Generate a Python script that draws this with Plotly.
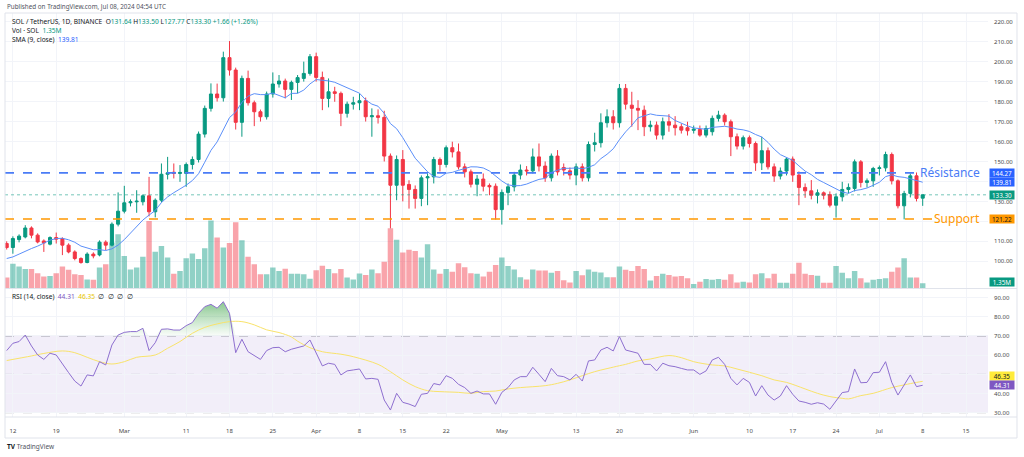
import numpy as np
import pandas as pd
import plotly.graph_objects as go

# ---------------- data ----------------
start_date = "2024-02-11"

opens = [108.9, 106.9, 110.9, 112.2, 116.7, 113.1, 110.2, 108.6, 111.9, 111.4,
         108.1, 104.7, 101.4, 99.4, 103.6, 103.2, 109.6, 108.1, 118.6, 125.1,
         129.3, 129.8, 129.8, 132.8, 124.8, 130.6, 143.6, 144.6, 144.0, 144.0,
         148.5, 151.0, 163.7, 176.6, 183.8, 181.9, 202.0, 195.8, 169.6, 191.6,
         179.4, 174.9, 172.4, 183.8, 188.8, 190.3, 186.1, 189.6, 191.6, 194.1,
         202.5, 192.1, 181.6, 184.9, 184.1, 174.1, 178.7, 179.4, 180.4, 172.4,
         172.9, 172.1, 152.7, 138.1, 151.0, 138.5, 136.0, 131.5, 141.8, 142.3,
         151.0, 148.5, 156.9, 154.8, 147.3, 144.8, 138.6, 141.2, 138.0, 137.6,
         125.9, 134.5, 137.3, 143.2, 145.7, 145.3, 152.3, 147.7, 141.8, 152.7,
         147.0, 145.3, 143.2, 147.3, 141.8, 158.5, 159.4, 169.4, 172.4, 169.4,
         186.6, 178.2, 176.6, 175.7, 167.4, 168.2, 163.2, 169.9, 168.2, 167.4,
         166.9, 165.6, 166.0, 163.2, 164.9, 171.6, 173.2, 169.9, 162.4, 157.7,
         161.9, 159.0, 149.3, 155.4, 147.3, 142.7, 145.2, 151.2, 143.2, 137.0,
         135.3, 133.1, 134.3, 133.4, 128.1, 132.3, 136.0, 136.5, 149.8, 139.5,
         140.3, 146.5, 146.8, 153.5, 140.3, 127.8, 134.0, 142.8, 131.64]
highs = [110.0, 112.5, 113.5, 118.1, 117.5, 114.0, 111.0, 112.5, 114.4, 112.0,
         109.0, 105.5, 102.0, 104.5, 104.5, 110.5, 110.5, 119.5, 134.5, 137.8,
         131.0, 135.6, 133.5, 142.3, 131.5, 149.0, 152.3, 149.0, 148.2, 149.5,
         152.5, 165.0, 178.0, 189.1, 189.0, 205.0, 210.3, 197.0, 193.0, 195.5,
         180.5, 176.0, 185.0, 194.6, 193.3, 191.5, 190.5, 193.3, 200.0, 203.8,
         204.5, 195.0, 191.6, 187.4, 185.0, 180.0, 182.4, 184.1, 182.0, 176.6,
         176.1, 175.4, 154.0, 153.0, 155.7, 140.6, 138.0, 143.0, 144.0, 152.3,
         152.0, 158.0, 159.9, 159.0, 149.0, 146.0, 143.2, 144.0, 139.0, 139.0,
         136.0, 139.0, 144.8, 148.5, 147.7, 156.5, 159.0, 150.0, 154.0, 155.7,
         149.0, 147.0, 149.0, 149.0, 160.0, 164.4, 174.1, 176.1, 175.7, 188.8,
         188.8, 184.9, 180.7, 178.0, 170.4, 170.0, 172.0, 173.7, 172.7, 169.0,
         169.9, 168.0, 168.0, 168.0, 173.0, 175.4, 174.1, 171.0, 164.0, 163.0,
         163.0, 160.0, 162.4, 157.0, 149.0, 147.0, 152.0, 152.5, 145.0, 139.0,
         140.7, 136.0, 135.0, 135.0, 134.0, 139.8, 139.0, 151.0, 150.7, 141.5,
         147.3, 148.0, 154.9, 154.5, 141.0, 135.3, 144.0, 144.5, 133.50]
lows = [105.9, 103.8, 109.5, 111.5, 111.5, 109.0, 104.7, 108.0, 108.9, 103.1,
        104.0, 100.5, 98.8, 99.0, 101.5, 102.5, 105.6, 107.5, 117.5, 124.0,
        127.5, 124.3, 128.0, 122.5, 122.0, 129.5, 141.0, 141.5, 139.8, 137.3,
        146.0, 149.5, 162.0, 175.0, 180.0, 180.0, 193.0, 166.0, 162.4, 178.0,
        167.7, 170.0, 171.0, 182.0, 187.0, 181.6, 180.8, 184.1, 190.0, 193.0,
        190.0, 175.7, 177.1, 179.9, 167.7, 172.0, 176.0, 175.7, 170.0, 162.4,
        169.0, 150.0, 116.5, 130.6, 130.0, 126.4, 126.4, 127.6, 128.1, 139.0,
        145.0, 147.0, 152.0, 146.0, 142.0, 137.0, 132.6, 135.0, 133.1, 120.9,
        118.4, 128.1, 135.0, 141.0, 143.0, 144.0, 145.0, 139.8, 140.0, 143.0,
        143.0, 141.0, 138.1, 140.0, 140.0, 155.0, 157.0, 167.0, 166.0, 167.0,
        176.0, 167.4, 165.7, 162.7, 165.0, 161.0, 161.0, 164.9, 163.0, 164.0,
        163.0, 164.0, 162.4, 162.0, 163.0, 170.0, 168.0, 152.7, 156.0, 156.0,
        157.0, 145.3, 145.7, 146.0, 139.8, 141.0, 143.0, 139.8, 128.1, 131.8,
        131.0, 129.0, 131.0, 127.0, 121.9, 130.0, 134.0, 135.0, 137.0, 137.0,
        137.3, 143.0, 145.0, 138.5, 126.5, 121.0, 132.0, 130.0, 127.77]
closes = [106.9, 111.4, 112.6, 116.7, 113.1, 109.7, 109.2, 111.9, 111.1, 108.1,
          104.7, 101.4, 99.4, 103.6, 102.7, 109.6, 108.1, 118.6, 125.1, 129.3,
          129.8, 130.1, 132.8, 124.8, 130.6, 143.6, 144.3, 144.0, 144.5, 148.5,
          151.0, 163.7, 176.6, 183.8, 181.9, 202.0, 195.8, 169.6, 191.6, 179.4,
          174.9, 172.4, 183.8, 188.8, 190.3, 186.1, 189.6, 192.0, 194.1, 202.5,
          192.1, 181.6, 184.9, 184.1, 174.1, 178.7, 179.4, 180.4, 172.4, 172.9,
          172.1, 152.7, 138.1, 151.0, 138.1, 136.0, 131.5, 141.8, 142.3, 151.0,
          148.5, 156.9, 154.8, 147.3, 144.8, 138.6, 141.2, 137.6, 137.3, 125.9,
          134.5, 137.3, 143.2, 145.7, 145.3, 152.3, 147.7, 141.8, 152.7, 144.8,
          145.7, 143.2, 147.3, 141.8, 158.5, 159.4, 169.4, 172.4, 169.4, 186.6,
          178.7, 176.6, 175.7, 167.4, 168.2, 163.2, 169.9, 168.2, 166.9, 165.7,
          165.4, 166.2, 163.2, 166.5, 171.6, 173.2, 169.9, 162.4, 157.7, 161.9,
          159.0, 149.3, 155.4, 147.3, 142.7, 145.2, 151.2, 143.2, 137.0, 135.3,
          133.1, 134.3, 133.1, 128.1, 132.3, 136.0, 137.0, 149.8, 139.5, 140.3,
          146.5, 146.8, 153.5, 140.3, 127.8, 134.0, 142.8, 131.5, 133.30]
# volume in millions of SOL
volumes = [2.9, 6.6, 5.9, 5.2, 5.2, 4.1, 3.2, 3.3, 4.1, 5.9,
           5.0, 3.8, 3.6, 2.4, 2.3, 5.6, 6.5, 12.4, 14.6, 8.7,
           5.1, 5.6, 8.5, 18.2, 9.9, 11.4, 8.3, 3.9, 4.7, 8.1,
           9.4, 7.9, 10.8, 18.3, 13.7, 11.0, 12.2, 17.8, 13.0, 8.5,
           6.5, 3.8, 3.8, 5.6, 4.7, 5.3, 3.9, 3.9, 3.8, 2.6,
           4.9, 6.1, 5.2, 4.1, 5.2, 2.9, 2.4, 4.0, 3.6, 5.1,
           4.1, 7.2, 16.2, 13.1, 9.7, 10.4, 10.1, 8.3, 11.9, 5.1,
           3.9, 5.2, 4.5, 6.8, 5.7, 4.1, 3.9, 3.2, 4.5, 6.3,
           8.3, 6.0, 5.1, 3.0, 2.4, 5.1, 4.8, 4.8, 4.2, 4.7,
           2.2, 1.6, 4.7, 3.5, 5.1, 4.5, 4.3, 3.0, 3.0, 5.9,
           5.0, 4.7, 6.0, 5.2, 2.1, 3.3, 3.9, 3.6, 3.2, 3.3,
           2.7, 1.2, 1.8, 2.5, 2.3, 2.5, 2.3, 3.8, 1.6, 1.8,
           1.6, 3.8, 4.1, 2.7, 3.9, 1.5, 1.5, 3.9, 6.9, 3.9,
           3.6, 3.4, 1.5, 1.5, 6.0, 4.2, 2.7, 4.7, 2.7, 1.6,
           2.3, 2.5, 2.7, 4.5, 5.6, 8.1, 2.9, 2.9, 1.35]
# SMA(9) values visible for the first 8 days (history before the chart starts)
sma_head = [101.4, 102.2, 103.6, 105.1, 106.4, 107.6, 108.9, 110.6]

rsi_values = [62.4, 66.2, 67.1, 70.5, 64.8, 60.1, 57.8, 61.0, 60.1, 55.8,
              50.9, 46.5, 43.9, 49.7, 49.2, 56.6, 54.9, 65.3, 70.5, 71.9,
              72.3, 72.3, 74.0, 62.4, 66.5, 73.5, 73.7, 73.1, 73.1, 75.4,
              77.0, 81.8, 85.3, 86.5, 84.5, 87.9, 81.8, 61.3, 68.3, 61.8,
              59.6, 57.8, 62.4, 63.9, 64.1, 61.8, 63.1, 64.1, 64.8, 67.9,
              61.0, 54.4, 55.8, 55.2, 49.7, 51.8, 52.3, 52.8, 47.6, 47.9,
              47.4, 36.6, 31.4, 40.1, 35.4, 34.5, 33.2, 39.6, 40.1, 45.2,
              44.5, 49.3, 47.9, 44.8, 43.1, 40.1, 41.3, 39.8, 39.8, 34.4,
              40.6, 43.1, 47.1, 48.8, 48.8, 53.7, 50.0, 46.2, 53.1, 49.3,
              48.8, 47.1, 50.0, 46.5, 57.0, 57.5, 62.7, 64.1, 62.2, 69.7,
              62.7, 61.8, 61.0, 55.2, 55.2, 51.8, 55.8, 54.5, 54.0, 53.1,
              52.3, 52.3, 50.0, 51.8, 57.5, 58.9, 55.2, 47.9, 44.5, 47.9,
              45.8, 38.7, 44.1, 39.2, 36.6, 38.7, 44.1, 39.6, 36.1, 35.4,
              34.4, 35.2, 34.5, 31.8, 36.1, 40.5, 41.0, 52.8, 45.6, 45.8,
              50.9, 51.1, 56.6, 45.8, 39.2, 44.5, 49.7, 43.6, 44.31]
# RSI-based MA (yellow), read at these day offsets from start_date
rsi_ma_days = [0, 4, 6, 9, 11, 13, 15, 17, 19, 21, 24, 26, 28, 30, 32, 34, 36, 38,
               40, 42, 44, 46, 47, 49, 51, 54, 56, 60, 62, 64, 66, 68, 70, 73, 75,
               77, 79, 81, 83, 87, 89, 91, 93, 95, 97, 99, 100, 102, 104, 107, 109,
               111, 114, 116, 118, 120, 122, 124, 126, 129, 131, 133, 135, 136,
               138, 140, 143, 145, 147, 148]
rsi_ma_values = [57.2, 59.6, 60.9, 62.2, 61.3, 58.9, 56.6, 55.4, 56.6, 58.9, 60.1,
                 63.6, 67.1, 71.4, 74.5, 76.3, 77.5, 77.5, 75.8, 73.2, 71.8, 69.5,
                 67.3, 63.9, 61.8, 60.5, 59.2, 55.2, 51.4, 47.1, 43.6, 41.5, 41.0,
                 40.6, 40.1, 41.0, 41.3, 42.4, 43.1, 44.1, 45.3, 47.1, 49.3, 51.4,
                 53.0, 54.5, 55.2, 57.0, 58.0, 59.8, 58.7, 56.6, 54.9, 54.4, 52.8,
                 51.1, 49.3, 47.1, 45.8, 42.4, 40.1, 38.4, 37.5, 37.2, 38.9, 40.1,
                 43.1, 44.5, 45.8, 46.35]

tick_dates = ["2024-02-12", "2024-02-19", "2024-03-01", "2024-03-11", "2024-03-18",
              "2024-03-25", "2024-04-01", "2024-04-08", "2024-04-15", "2024-04-22",
              "2024-05-01", "2024-05-13", "2024-05-20", "2024-06-01", "2024-06-10",
              "2024-06-17", "2024-06-24", "2024-07-01", "2024-07-08", "2024-07-15"]
tick_labels = ["12", "19", "Mar", "11", "18", "25", "Apr", "8", "15", "22",
               "May", "13", "20", "Jun", "10", "17", "24", "Jul", "8", "15"]
price_ticks = [100, 110, 120, 130, 140, 150, 160, 170, 180, 190, 200, 210, 220]
hidden_price_ticks = [120, 140]   # covered by the price labels in the reference
rsi_ticks = [30, 40, 50, 60, 70, 80, 90]
hidden_rsi_ticks = [50]

resistance = 144.27
support = 121.22
last_close = 133.30
last_sma = 139.81
last_rsi = 44.31
last_rsi_ma = 46.35

# ---------------- styling ----------------
FONT = "Noto Sans"
UP = "#089981"
DN = "#F23645"
UP_VOL = "rgba(8,153,129,0.45)"
DN_VOL = "rgba(242,54,69,0.45)"
SMA_C = "#5b8ff9"
RES_C = "#4a7cf6"
SUP_C = "#FF9800"
RSI_C = "#8E6FD0"
RSI_BOX = "#7E57C2"
RSI_MA_C = "#F9E36A"
GRID = "#F2F4F9"
TXT = "#131722"

n = len(closes)
dates = pd.date_range(start_date, periods=n, freq="D")
t0 = pd.Timestamp(start_date)

sma = pd.Series(closes, dtype=float).rolling(9).mean()
sma.iloc[:len(sma_head)] = sma_head

vol_colors = [UP_VOL if c >= o else DN_VOL for o, c in zip(opens, closes)]
rsi_ma_dates = [t0 + pd.Timedelta(days=d) for d in rsi_ma_days]
rsi_arr = np.array(rsi_values)
rsi_ob = np.maximum(rsi_arr, 70)

x_left = t0 + pd.Timedelta(days=-0.275)
x_right = t0 + pd.Timedelta(days=158.55)

fig = go.Figure()
fig.add_trace(go.Bar(x=dates, y=volumes, marker=dict(color=vol_colors, line=dict(width=0)),
                     xaxis="x", yaxis="y", hoverinfo="skip"))
fig.add_trace(go.Candlestick(x=dates, open=opens, high=highs, low=lows, close=closes,
                             xaxis="x", yaxis="y3", whiskerwidth=0,
                             increasing=dict(line=dict(color=UP, width=1), fillcolor=UP),
                             decreasing=dict(line=dict(color=DN, width=1), fillcolor=DN),
                             hoverinfo="skip"))
fig.add_trace(go.Scatter(x=dates, y=sma, xaxis="x", yaxis="y3", mode="lines",
                         line=dict(color=SMA_C, width=1), hoverinfo="skip"))

# RSI pane
fig.add_trace(go.Scatter(x=dates, y=[70] * n, xaxis="x", yaxis="y2", mode="lines",
                         line=dict(width=0), hoverinfo="skip"))
fig.add_trace(go.Scatter(x=dates, y=rsi_ob, xaxis="x", yaxis="y2", mode="lines",
                         line=dict(width=0), fill="tonexty",
                         fillgradient=dict(type="vertical",
                                           colorscale=[[0, "rgba(76,175,80,0.03)"],
                                                       [1, "rgba(56,160,70,0.6)"]],
                                           start=70, stop=88),
                         hoverinfo="skip"))
fig.add_trace(go.Scatter(x=rsi_ma_dates, y=rsi_ma_values, xaxis="x", yaxis="y2", mode="lines",
                         line=dict(color=RSI_MA_C, width=1, shape="spline"), hoverinfo="skip"))
fig.add_trace(go.Scatter(x=dates, y=rsi_values, xaxis="x", yaxis="y2", mode="lines",
                         line=dict(color=RSI_C, width=1), hoverinfo="skip"))

fig.update_layout(
    width=1024, height=457,
    margin=dict(l=5, r=36, t=13, b=40),
    paper_bgcolor="white", plot_bgcolor="white",
    showlegend=False, hovermode=False, bargap=0.12,
    font=dict(family=FONT, size=6, color=TXT),
    xaxis=dict(domain=[0, 1], anchor="y2", type="date", range=[x_left, x_right],
               tickvals=tick_dates, ticktext=tick_labels, showgrid=True, gridcolor=GRID,
               gridwidth=1, zeroline=False, showline=False, ticks="",
               ticklabelstandoff=9, tickfont=dict(size=6, color="#4a4a4a"),
               rangeslider=dict(visible=False)),
    yaxis=dict(domain=[0.3185, 1], range=[0, 74.3], visible=False),
    yaxis3=dict(overlaying="y", anchor="x", side="right", range=[86.47, 224.36],
                tickvals=price_ticks,
                ticktext=["" if v in hidden_price_ticks else f"{v:.2f}" for v in price_ticks],
                showgrid=True, gridcolor=GRID, zeroline=False, ticks="",
                ticklabelstandoff=5, tickfont=dict(size=6, color="#4a4a4a")),
    yaxis2=dict(domain=[0, 0.317], anchor="x", side="right", range=[27.76, 94.54],
                tickvals=rsi_ticks,
                ticktext=["" if v in hidden_rsi_ticks else f"{v:.2f}" for v in rsi_ticks],
                showgrid=True, gridcolor=GRID, zeroline=False, ticks="",
                ticklabelstandoff=5, tickfont=dict(size=6, color="#4a4a4a")),
)

shapes = []
# RSI band and guide lines
shapes.append(dict(type="rect", xref="paper", yref="y2", x0=0, x1=1, y0=30, y1=70,
                   fillcolor="rgba(126,87,194,0.10)", line=dict(width=0), layer="below"))
for lvl, col in [(70, "rgba(120,123,134,0.7)"), (50, "rgba(120,123,134,0.45)"),
                 (30, "rgba(120,123,134,0.7)")]:
    shapes.append(dict(type="line", xref="paper", yref="y2", x0=0, x1=1, y0=lvl, y1=lvl,
                       line=dict(color=col, width=1, dash="dash"), layer="below"))
# support / resistance / last price
shapes.append(dict(type="line", xref="paper", yref="y3", x0=0, x1=0.931,
                   y0=resistance, y1=resistance, line=dict(color=RES_C, width=1.8, dash="dash")))
shapes.append(dict(type="line", xref="paper", yref="y3", x0=0, x1=0.946,
                   y0=support, y1=support, line=dict(color=SUP_C, width=1.5, dash="dash")))
shapes.append(dict(type="line", xref="paper", yref="y3", x0=0, x1=1,
                   y0=last_close, y1=last_close,
                   line=dict(color="rgba(8,153,129,0.55)", width=1, dash="dot")))
# pane separator and frame
shapes.append(dict(type="line", xref="paper", yref="paper", x0=0, x1=1.0295, y0=0.318, y1=0.318,
                   line=dict(color="#E0E3EB", width=1)))
shapes.append(dict(type="line", xref="paper", yref="paper", x0=0, x1=1.0295, y0=0, y1=0,
                   line=dict(color="#E0E3EB", width=1)))
shapes.append(dict(type="rect", xref="paper", yref="paper", x0=0, x1=1.0295, y0=-0.052, y1=1,
                   line=dict(color="#E0E3EB", width=1), fillcolor="rgba(0,0,0,0)"))
fig.update_layout(shapes=shapes)


def span(t, c):
    return f"<span style='color:{c}'>{t}</span>"


ann = []
ann.append(dict(xref="paper", yref="paper", x=0.0, y=1.0156, xanchor="left", yanchor="middle",
                text="Published on TradingView.com, Jul 08, 2024 04:54 UTC",
                font=dict(size=6.3, color="#50535e")))
hdr = ("SOL / TetherUS, 1D, BINANCE  " + "O" + span("131.64", UP) + " H" + span("133.50", UP)
       + " L" + span("127.77", UP) + " C" + span("133.30", UP) + " " + span("+1.66 (+1.26%)", UP))
ann.append(dict(xref="paper", yref="paper", x=0.005, y=0.9785, xanchor="left", yanchor="middle",
                text=hdr, font=dict(size=6.6, color=TXT)))
ann.append(dict(xref="paper", yref="paper", x=0.005, y=0.957, xanchor="left", yanchor="middle",
                text="Vol · SOL  " + span("1.35M", UP), font=dict(size=6.6, color=TXT)))
ann.append(dict(xref="paper", yref="paper", x=0.005, y=0.9355, xanchor="left", yanchor="middle",
                text="SMA (9, close)  " + span(f"{last_sma:.2f}", "#2962FF"),
                font=dict(size=6.6, color=TXT)))
ann.append(dict(xref="paper", yref="paper", x=0.005, y=0.2995, xanchor="left", yanchor="middle",
                text="RSI (14, close)  " + span(f"{last_rsi:.2f}", RSI_BOX) + "  "
                + span(f"{last_rsi_ma:.2f}", "#E8C600") + "  ∅  ∅  ∅  ∅",
                font=dict(size=6.6, color=TXT)))
ann.append(dict(xref="paper", yref="y3", x=0.9939, y=resistance, xanchor="right", yanchor="middle",
                text="Résistance", font=dict(size=12, color=RES_C)))
ann.append(dict(xref="paper", yref="y3", x=0.9939, y=support, xanchor="right", yanchor="middle",
                text="Support", font=dict(size=12, color=SUP_C)))


def plabel(text, y, yref, bg, fg):
    ann.append(dict(xref="paper", yref=yref, x=1.0012, y=y, xanchor="left", yanchor="middle",
                    text=text, bgcolor=bg, width=24, height=8, borderpad=0,
                    font=dict(size=6.3, color=fg)))


plabel(f"{resistance:.2f}", resistance, "y3", "#2962FF", "white")
plabel(f"{last_sma:.2f}", last_sma, "y3", "#2962FF", "white")
plabel(f"{last_close:.2f}", last_close, "y3", UP, "white")
plabel(f"{support:.2f}", support, "y3", "#FF9800", TXT)
plabel("1.35M", 0.335, "paper", UP, "white")
plabel(f"{last_rsi_ma:.2f}", 48.9, "y2", "#FFEB3B", TXT)
plabel(f"{last_rsi:.2f}", last_rsi, "y2", RSI_BOX, "white")

ann.append(dict(xref="paper", yref="paper", x=0.0, y=-0.074, xanchor="left", yanchor="middle",
                text="<b>TV</b> " + span("TradingView", "#50535e"),
                font=dict(size=6.5, color=TXT)))
for a in ann:
    a.setdefault("showarrow", False)
fig.update_layout(annotations=ann)

fig.write_html("out.html", config={"displayModeBar": False},
               post_script="document.body.style.margin='0';document.body.style.overflow='hidden';")
